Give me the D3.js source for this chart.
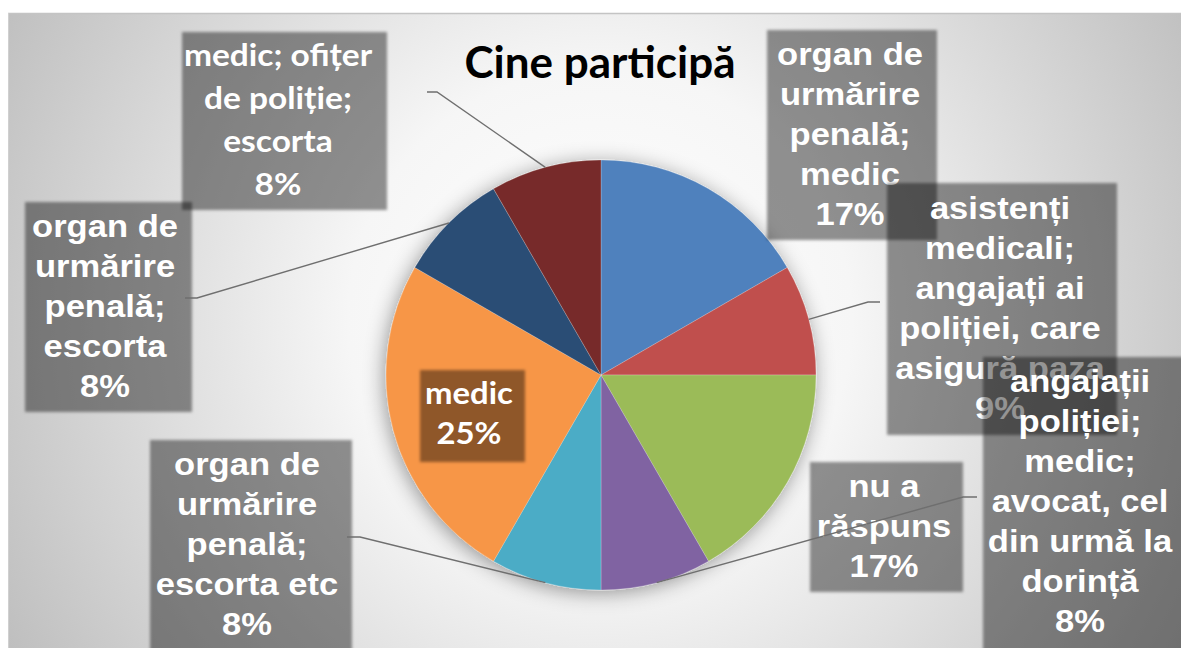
<!DOCTYPE html>
<html>
<head>
<meta charset="utf-8">
<script src="https://cdn.jsdelivr.net/npm/d3@7"></script>
<style>
  body { margin: 0; background: #fff; }
  svg { display: block; }
</style>
</head>
<body>
<svg id="chart"></svg>
<script>
// answers to "Cine participă" (12 respondents)
const categories = [
    "organ de\nurmărire\npenală;\nmedic",
    "asistenți\nmedicali;\nangajați ai\npoliției, care\nasigură paza",
    "nu a\nrăspuns",
    "angajații\npoliției;\nmedic;\navocat, cel\ndin urmă la\ndorință",
    "organ de\nurmărire\npenală;\nescorta etc",
    "medic",
    "organ de\nurmărire\npenală;\nescorta",
    "medic; ofițer\nde poliție;\nescorta"
];
const counts = [2, 1, 2, 1, 1, 3, 1, 1];
const percentLabels = ["17%", "9%", "17%", "8%", "8%", "25%", "8%", "8%"];
const colors = ["#4f81bd", "#c0504d", "#9bbb59", "#8064a2", "#4bacc6", "#f79646", "#2c4d75", "#772c2a"];

const width = 1181, height = 648;
const cx = 601, cy = 375, radius = 215;

const ARIAL = "'Liberation Sans', Arial, sans-serif";
const CALIBRI = "Lato, 'Open Sans', sans-serif";

// where each data label box sits (same order as categories)
const labelBoxes = [
    { x: 767, y: 30, w: 170, h: 210, tx: 850, ty: 133, font: ARIAL, size: 32, sx: 1.08, lh: 40 },
    { x: 887, y: 183, w: 230, h: 252, tx: 1000, ty: 307, font: ARIAL, size: 32, sx: 1.08, lh: 40 },
    { x: 810, y: 462, w: 153, h: 130, tx: 884, ty: 525, font: ARIAL, size: 32, sx: 1.08, lh: 40 },
    { x: 983, y: 357, w: 210, h: 300, tx: 1080, ty: 500, font: ARIAL, size: 32, sx: 1.08, lh: 40 },
    { x: 150, y: 440, w: 202, h: 220, tx: 247, ty: 543, font: ARIAL, size: 32, sx: 1.08, lh: 40 },
    { x: 420, y: 370, w: 105, h: 92, tx: 469, ty: 413, font: CALIBRI, size: 31, sx: 1.06, lh: 40 },
    { x: 25, y: 202, w: 167, h: 210, tx: 105, ty: 305, font: ARIAL, size: 32, sx: 1.08, lh: 40 },
    { x: 182, y: 32, w: 205, h: 178, tx: 278, ty: 119, font: CALIBRI, size: 31, sx: 1.08, lh: 43 }
];

// leader lines: elbow and end point next to the box (null = no line)
const leaders = [
    null,
    [[868, 302], [880, 302]],
    null,
    [[963, 497], [977, 497]],
    [[360, 537], [347, 537]],
    null,
    [[197, 298], [185, 298]],
    [[437, 92], [427, 92]]
];

const svg = d3.select("#chart")
    .attr("width", width)
    .attr("height", height);

const defs = svg.append("defs");

const bg = defs.append("radialGradient")
    .attr("id", "bgGrad")
    .attr("gradientUnits", "userSpaceOnUse")
    .attr("cx", 600).attr("cy", 320).attr("r", 720);
bg.append("stop").attr("offset", "0%").attr("stop-color", "#ffffff");
bg.append("stop").attr("offset", "35%").attr("stop-color", "#f6f6f6");
bg.append("stop").attr("offset", "100%").attr("stop-color", "#b9b9b9");

const shadow = defs.append("filter").attr("id", "pieShadow")
    .attr("x", "-20%").attr("y", "-20%").attr("width", "140%").attr("height", "140%");
shadow.append("feDropShadow")
    .attr("dx", -2).attr("dy", 3)
    .attr("stdDeviation", 10)
    .attr("flood-color", "#000")
    .attr("flood-opacity", 0.4);

const soft = defs.append("filter").attr("id", "softBox")
    .attr("x", "-5%").attr("y", "-5%").attr("width", "110%").attr("height", "110%");
soft.append("feGaussianBlur").attr("stdDeviation", 1.6);

// chart area background
svg.append("rect")
    .attr("x", 8).attr("y", 13)
    .attr("width", width - 8).attr("height", height - 13)
    .attr("fill", "url(#bgGrad)");
svg.append("line")
    .attr("x1", 8).attr("x2", width)
    .attr("y1", 13.5).attr("y2", 13.5)
    .attr("stroke", "#c4c4c4").attr("stroke-width", 1.5);
svg.append("line")
    .attr("x1", 8.5).attr("x2", 8.5)
    .attr("y1", 13).attr("y2", height)
    .attr("stroke", "#d0d0d0").attr("stroke-width", 1);

// title
svg.append("text")
    .attr("x", 600)
    .attr("y", 78)
    .attr("text-anchor", "middle")
    .attr("font-family", CALIBRI)
    .attr("font-weight", 700)
    .attr("font-size", 44)
    .attr("fill", "#000")
    .text("Cine participă");

// pie
const pie = d3.pie().sort(null).value(d => d);
const arcs = pie(counts);
const arc = d3.arc().innerRadius(0).outerRadius(radius);
const edgeArc = d3.arc().innerRadius(radius).outerRadius(radius);

const pieG = svg.append("g")
    .attr("transform", `translate(${cx},${cy})`)
    .attr("filter", "url(#pieShadow)");

pieG.selectAll("path")
    .data(arcs)
    .enter().append("path")
    .attr("d", arc)
    .attr("fill", (d, i) => colors[i])
    .attr("stroke", "rgba(255,255,255,0.35)")
    .attr("stroke-width", 0.6);

// data labels in series order (later ones cover earlier ones)
const labels = svg.append("g");
arcs.forEach((d, i) => {
    const b = labelBoxes[i];
    const g = labels.append("g");
    g.append("rect")
        .attr("x", b.x).attr("y", b.y)
        .attr("width", b.w).attr("height", b.h)
        .attr("fill", "rgba(0,0,0,0.42)")
        .attr("filter", "url(#softBox)");
    const lines = categories[i].split("\n").concat([percentLabels[i]]);
    const n = lines.length;
    const t = g.append("text")
        .attr("transform", `translate(${b.tx},${b.ty}) scale(${b.sx},1)`)
        .attr("text-anchor", "middle")
        .attr("font-family", b.font)
        .attr("font-weight", 700)
        .attr("font-size", b.size)
        .attr("fill", "#fff");
    lines.forEach((ln, k) => {
        t.append("tspan")
            .attr("x", 0)
            .attr("y", (k - (n - 1) / 2) * b.lh + b.size * 0.36)
            .text(ln);
    });
});

// leader lines
arcs.forEach((d, i) => {
    if (!leaders[i]) return;
    const p = edgeArc.centroid(d);
    const pts = [[cx + p[0], cy + p[1]]].concat(leaders[i]);
    svg.append("path")
        .attr("d", d3.line()(pts))
        .attr("fill", "none")
        .attr("stroke", "#6f6f6f")
        .attr("stroke-width", 1.4);
});
</script>
</body>
</html>
